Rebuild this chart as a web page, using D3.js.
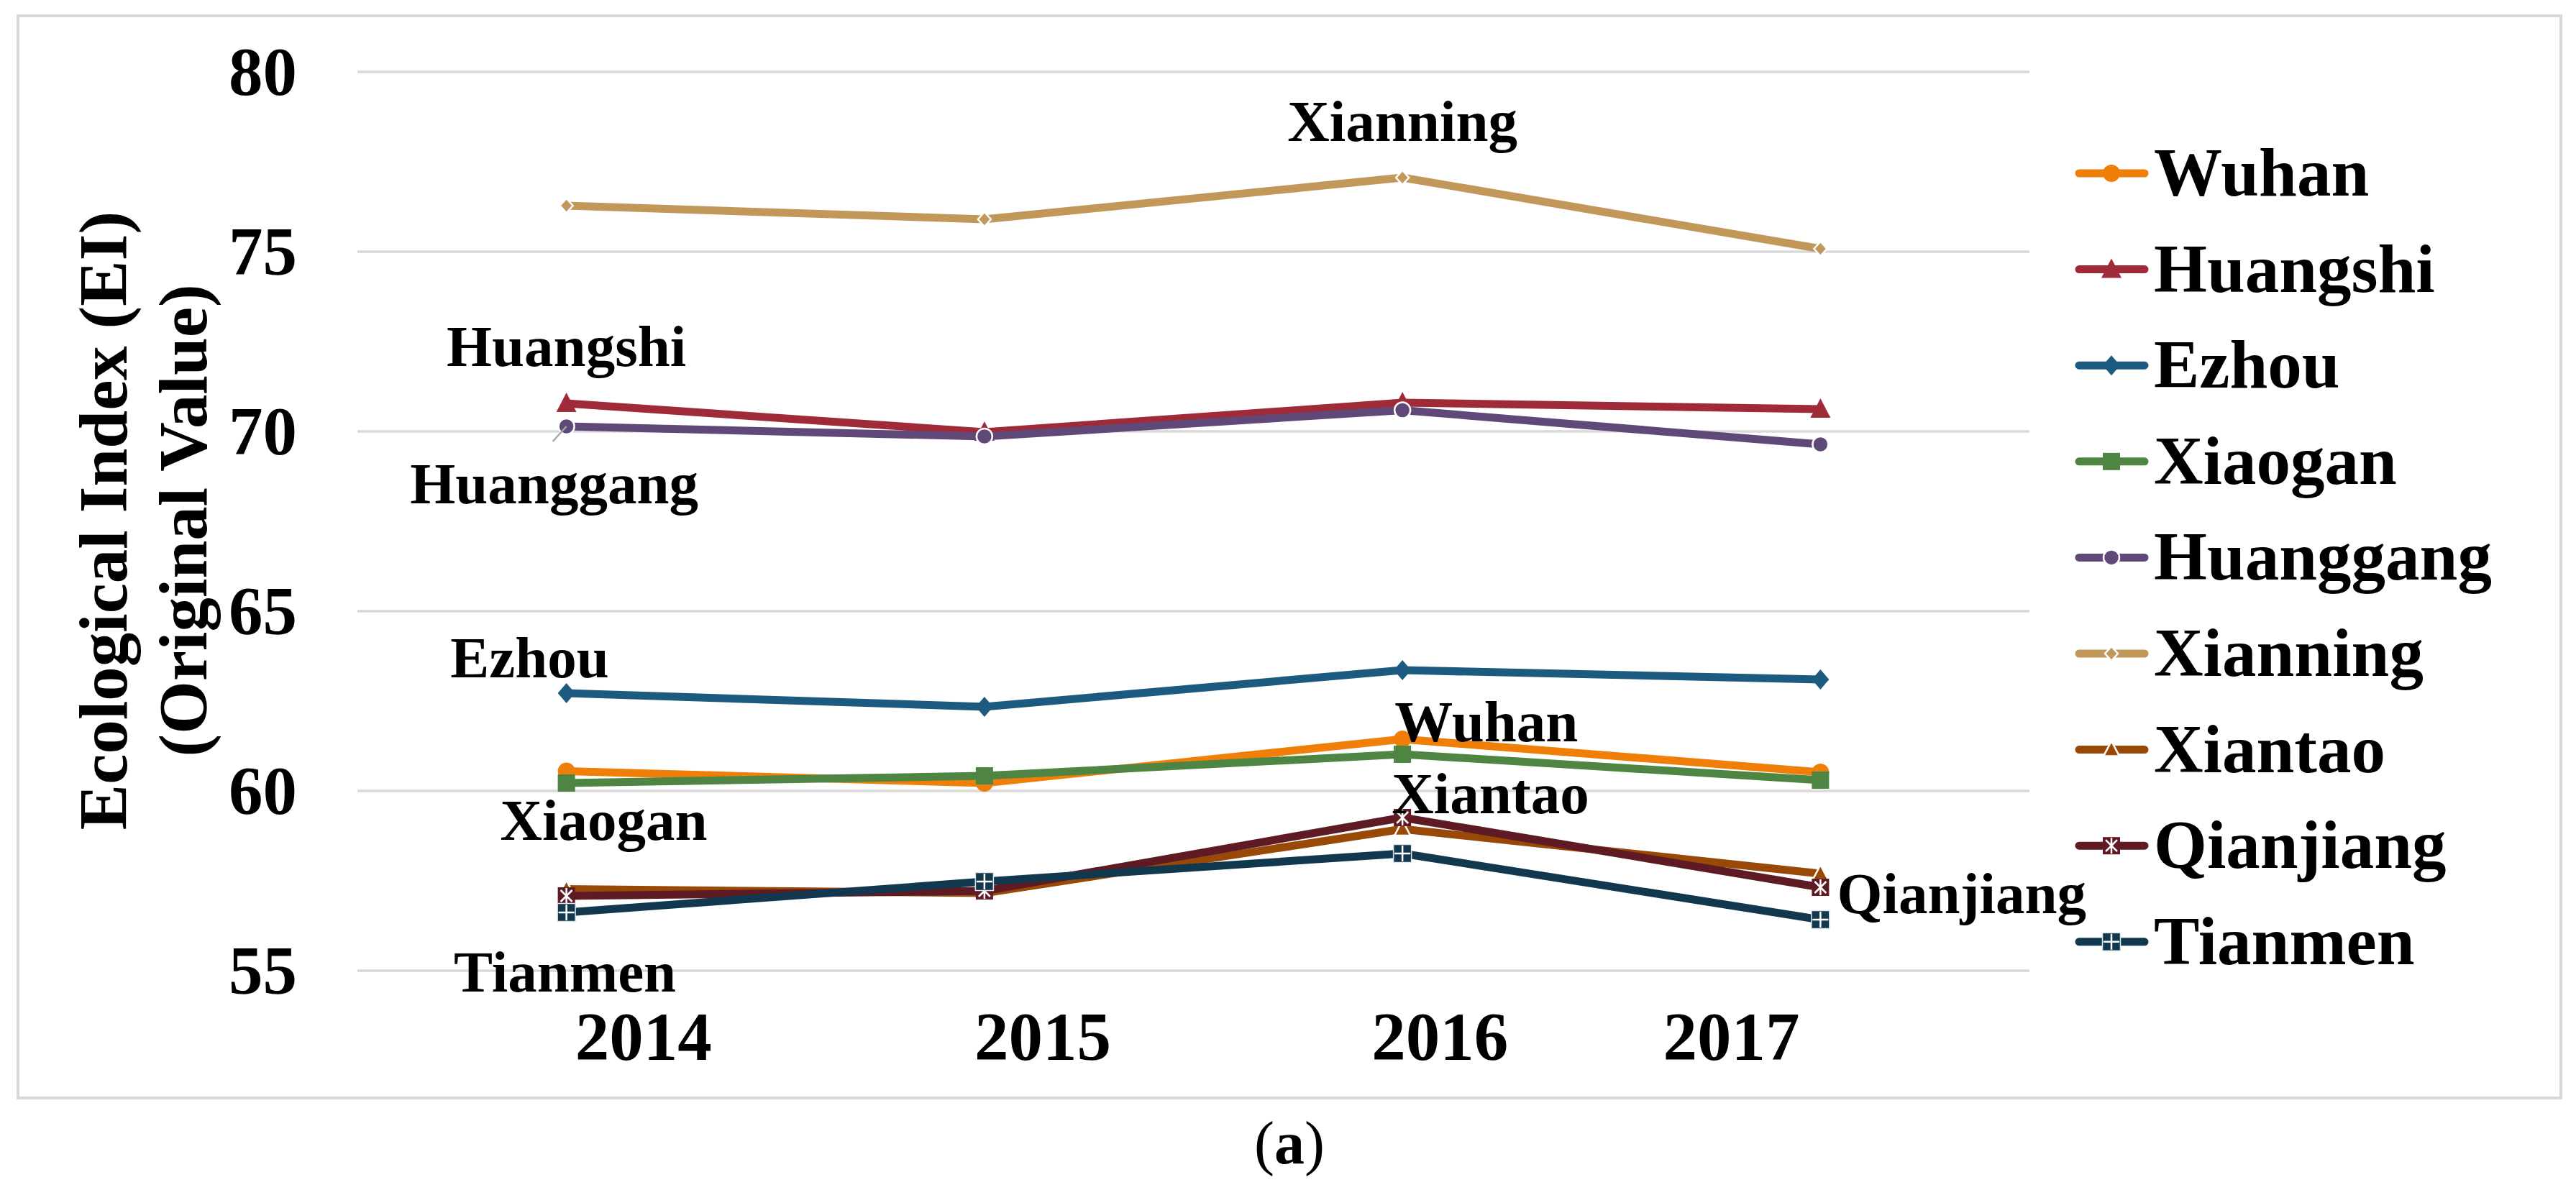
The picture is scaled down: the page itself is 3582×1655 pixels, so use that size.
<!DOCTYPE html>
<html>
<head>
<meta charset="utf-8">
<script src="https://cdn.jsdelivr.net/npm/d3@7"></script>
<style>
  html, body { margin: 0; padding: 0; background: #ffffff; }
  svg { display: block; }
</style>
</head>
<body>
<svg id="chart" width="3582" height="1655"></svg>
<script>
// ---------------- DATA ----------------
const years = ["2014", "2015", "2016", "2017"];
const seriesNames = ["Wuhan", "Huangshi", "Ezhou", "Xiaogan", "Huanggang", "Xianning", "Xiantao", "Qianjiang", "Tianmen"];
const wuhan     = [60.55, 60.22, 61.44, 60.52];
const huangshi  = [70.78, 69.98, 70.80, 70.62];
const ezhou     = [62.72, 62.34, 63.36, 63.10];
const xiaogan   = [60.22, 60.42, 61.02, 60.30];
const huanggang = [70.14, 69.86, 70.59, 69.64];
const xianning  = [76.28, 75.90, 77.06, 75.08];
const xiantao   = [57.27, 57.16, 58.94, 57.70];
const qianjiang = [57.08, 57.22, 59.26, 57.32];
const tianmen   = [56.62, 57.48, 58.26, 56.42];
const yTicks = [55, 60, 65, 70, 75, 80];
const yTitleLines = ["Ecological Index (EI)", "(Original Value)"];
const caption = "a";

// ---------------- STYLE / LAYOUT ----------------
const values = [wuhan, huangshi, ezhou, xiaogan, huanggang, xianning, xiantao, qianjiang, tianmen];
const colors = ["#F07F09", "#A02B38", "#1D5A80", "#4E8542", "#604878", "#C19859", "#984807", "#5F1B24", "#123850"];
const markerTypes = ["circle", "triangle", "diamond", "square", "circleW", "diamondW", "triangleW", "star", "plus"];
const FONT = "'Liberation Serif', 'Times New Roman', serif";

const plot = { left: 497, right: 2822, top: 100, bottom: 1350 };
const frame = { x: 25, y: 22, w: 3536, h: 1505 };

// label placements relative to a data point (layout, not data)
const annotations = [
  { s: "Xianning",  i: 2, dx: 0,   dy: -51, anchor: "middle" },
  { s: "Huangshi",  i: 0, dx: 0,   dy: -52, anchor: "middle" },
  { s: "Huanggang", i: 0, dx: -17, dy: 107, anchor: "middle", leader: [-19, 21] },
  { s: "Ezhou",     i: 0, dx: -51, dy: -22, anchor: "middle" },
  { s: "Xiaogan",   i: 0, dx: 52,  dy: 79,  anchor: "middle" },
  { s: "Tianmen",   i: 0, dx: -2,  dy: 110, anchor: "middle" },
  { s: "Wuhan",     i: 2, dx: -11, dy: 3,   anchor: "start" },
  { s: "Xiantao",   i: 2, dx: -15, dy: -22, anchor: "start" },
  { s: "Qianjiang", i: 3, dx: 23,  dy: 36,  anchor: "start" }
];
// x tick label nudges relative to category centers (labels in the original are shifted)
const xLabelNudge = [107, 81, 52, -124];

// ---------------- DRAW ----------------
const svg = d3.select("#chart");

svg.append("rect")
  .attr("x", frame.x).attr("y", frame.y).attr("width", frame.w).attr("height", frame.h)
  .attr("fill", "#ffffff").attr("stroke", "#d9d9d9").attr("stroke-width", 4);

const x = d3.scaleBand().domain(years).range([plot.left, plot.right]);
const y = d3.scaleLinear().domain([55, 80]).range([plot.bottom, plot.top]);
const cx = yr => x(yr) + x.bandwidth() / 2;

// gridlines
svg.append("g").selectAll("line").data(yTicks).join("line")
  .attr("x1", plot.left).attr("x2", plot.right)
  .attr("y1", d => y(d)).attr("y2", d => y(d))
  .attr("stroke", "#d9d9d9").attr("stroke-width", 3.5);

// y tick labels
svg.append("g").selectAll("text").data(yTicks).join("text")
  .attr("x", 413).attr("y", d => y(d) + 32)
  .attr("text-anchor", "end")
  .attr("font-family", FONT).attr("font-weight", "bold").attr("font-size", 95)
  .attr("fill", "#000").text(d => d);

// x tick labels
svg.append("g").selectAll("text").data(years).join("text")
  .attr("x", (d, i) => cx(d) + xLabelNudge[i]).attr("y", 1474)
  .attr("text-anchor", "middle")
  .attr("font-family", FONT).attr("font-weight", "bold").attr("font-size", 95)
  .attr("fill", "#000").text(d => d);

// y title
const yt = svg.append("g").attr("transform", "translate(0,724)");
yTitleLines.forEach((t, k) => {
  yt.append("text")
    .attr("transform", `translate(${k === 0 ? 176 : 287},0) rotate(-90)`)
    .attr("text-anchor", "middle")
    .attr("font-family", FONT).attr("font-weight", "bold").attr("font-size", 95)
    .attr("fill", "#000").text(t);
});

// marker drawing
function drawMarker(g, type, color, px, py) {
  const m = g.append("g").attr("transform", `translate(${px},${py})`);
  switch (type) {
    case "circle":
      m.append("circle").attr("r", 12).attr("fill", color); break;
    case "circleW":
      m.append("circle").attr("r", 11).attr("fill", color).attr("stroke", "#fff").attr("stroke-width", 2.5); break;
    case "triangle":
      m.append("path").attr("d", "M0,-15 L14,12 L-14,12 Z").attr("fill", color); break;
    case "triangleW":
      m.append("path").attr("d", "M0,-12 L11,9 L-11,9 Z").attr("fill", color).attr("stroke", "#fff").attr("stroke-width", 2.5); break;
    case "diamond":
      m.append("path").attr("d", "M0,-14 L12,0 L0,14 L-12,0 Z").attr("fill", color); break;
    case "diamondW":
      m.append("path").attr("d", "M0,-10 L9,0 L0,10 L-9,0 Z").attr("fill", color).attr("stroke", "#fff").attr("stroke-width", 2.5); break;
    case "square":
      m.append("rect").attr("x", -12).attr("y", -12).attr("width", 24).attr("height", 24).attr("fill", color); break;
    case "star":
      m.append("rect").attr("x", -12).attr("y", -12).attr("width", 24).attr("height", 24).attr("fill", color);
      m.append("path").attr("d", "M-8,-8 L8,8 M8,-8 L-8,8 M0,-11 L0,11")
        .attr("stroke", "#fff").attr("stroke-width", 2.5).attr("fill", "none");
      break;
    case "plus":
      m.append("rect").attr("x", -12.5).attr("y", -12.5).attr("width", 25).attr("height", 25)
        .attr("fill", color).attr("stroke", "#dfe6ea").attr("stroke-width", 1.5);
      m.append("path").attr("d", "M-11,0 L11,0 M0,-11 L0,11")
        .attr("stroke", "#fff").attr("stroke-width", 2.5).attr("fill", "none");
      break;
  }
}

// series
const line = d3.line().x((d, i) => cx(years[i])).y(d => y(d));
const seriesG = svg.append("g");
values.forEach((vals, s) => {
  const g = seriesG.append("g");
  g.append("path").attr("d", line(vals))
    .attr("fill", "none").attr("stroke", colors[s]).attr("stroke-width", 11)
    .attr("stroke-linejoin", "round");
  vals.forEach((v, i) => drawMarker(g, markerTypes[s], colors[s], cx(years[i]), y(v)));
});

// data labels
const annG = svg.append("g");
annotations.forEach(a => {
  const s = seriesNames.indexOf(a.s);
  const px = cx(years[a.i]), py = y(values[s][a.i]);
  if (a.leader) {
    annG.append("line").attr("x1", px).attr("y1", py)
      .attr("x2", px + a.leader[0]).attr("y2", py + a.leader[1])
      .attr("stroke", "#a6a6a6").attr("stroke-width", 2.5);
  }
  annG.append("text")
    .attr("x", px + a.dx).attr("y", py + a.dy)
    .attr("text-anchor", a.anchor)
    .attr("font-family", FONT).attr("font-weight", "bold").attr("font-size", 81)
    .attr("fill", "#000").text(a.s);
});

// legend
const legG = svg.append("g");
seriesNames.forEach((name, s) => {
  const ly = 241 + s * 133.6;
  legG.append("line").attr("x1", 2891).attr("x2", 2982).attr("y1", ly).attr("y2", ly)
    .attr("stroke", colors[s]).attr("stroke-width", 11).attr("stroke-linecap", "round");
  drawMarker(legG, markerTypes[s], colors[s], 2936, ly);
  legG.append("text").attr("x", 2995).attr("y", ly + 31)
    .attr("font-family", FONT).attr("font-weight", "bold").attr("font-size", 95)
    .attr("fill", "#000").text(name);
});

// caption
const cap = svg.append("text").attr("x", 1793).attr("y", 1618).attr("text-anchor", "middle")
  .attr("font-family", FONT).attr("font-size", 84).attr("fill", "#000");
cap.append("tspan").text("(");
cap.append("tspan").attr("font-weight", "bold").text(caption);
cap.append("tspan").text(")");
</script>
</body>
</html>
